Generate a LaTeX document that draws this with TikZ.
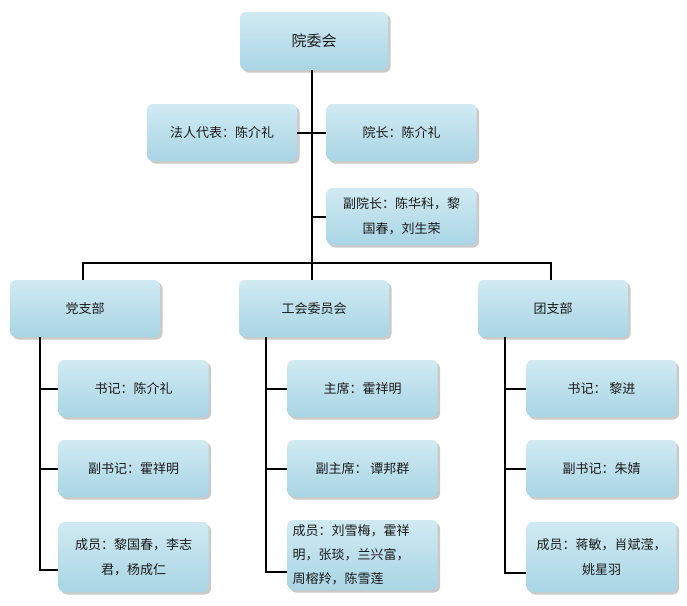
\documentclass[tikz,border=0pt]{standalone}
\usepackage{fontspec}
\setmainfont{Noto Sans CJK SC}
\usetikzlibrary{shadows}
\definecolor{boxtop}{HTML}{D0EAF2}
\definecolor{boxbot}{HTML}{A9D5E5}
\definecolor{txt}{HTML}{1A1A1A}
\begin{document}
\begin{tikzpicture}[x=1pt,y=-1pt,
  orgbox/.style={rectangle, rounded corners=6pt, top color=boxtop, bottom color=boxbot,
    draw=none, minimum width=150pt, minimum height=57pt, inner sep=2pt,
    font=\fontsize{13}{25}\selectfont, text=txt, align=center,
    drop shadow={shadow xshift=2.5pt, shadow yshift=-2.5pt, fill=black!35, opacity=0.6}},
  tallbox/.style={orgbox, minimum height=70pt},
  link/.style={draw=black, line width=2pt}]
\useasboundingbox (0,0) rectangle (687,605);
% top
\node[orgbox, minimum width=148pt, minimum height=58pt, font=\fontsize{15}{18}\selectfont] (top) at (314,41) {院委会};
\node[orgbox] (fr) at (222,132.5) {法人代表：陈介礼};
\node[orgbox] (yz) at (401.5,132.5) {院长：陈介礼};
\node[orgbox, text width=140pt] (fyz) at (401.5,216.5) {副院长：陈华科，黎\\国春，刘生荣};
% departments
\node[orgbox] (dzb) at (85,308.5) {党支部};
\node[orgbox] (gh) at (314,308.5) {工会委员会};
\node[orgbox] (tzb) at (553,308.5) {团支部};
% left children
\node[orgbox] (l1) at (133.5,388.5) {书记：陈介礼};
\node[orgbox] (l2) at (133.5,468.5) {副书记：霍祥明};
\node[tallbox, text width=140pt] (l3) at (133.5,557) {成员：黎国春，李志\\君，杨成仁};
% middle children
\node[orgbox] (m1) at (362.5,388.5) {主席：霍祥明};
\node[orgbox] (m2) at (362.5,468.5) {副主席： 谭邦群};
\node[tallbox, text width=140pt, align=left, font=\fontsize{13}{24}\selectfont] (m3) at (362.5,555) {\raisebox{0pt}[0pt][0pt]{\parbox[t]{140pt}{\vspace*{-30pt}成员：刘雪梅，霍祥\\明，张琰，兰兴富，\\周榕羚，陈雪莲}}};
% right children
\node[orgbox] (r1) at (601.5,388.5) {书记：\ 黎进};
\node[orgbox] (r2) at (601.5,468.5) {副书记：朱婧};
\node[tallbox, text width=140pt] (r3) at (601.5,557) {成员：蒋敏，肖斌滢，\\姚星羽};
% connectors
\coordinate (bar) at (312,263);
\draw[link] (top.south -| bar) -- (bar);
\draw[link] (fr.east) -- (yz.west);
\draw[link] (fyz.west) -- (fyz.west -| bar);
\draw[link] (dzb.north -| 83,0) |- (bar) -| (tzb.north -| 551,0);
\draw[link] (bar) -- (bar |- gh.north);
% left trunk
\coordinate (lt) at (40,337);
\draw[link] (lt) |- ([yshift=-13pt]l3.west);
\draw[link] (l1.west) -- (l1.west -| lt);
\draw[link] (l2.west) -- (l2.west -| lt);
\coordinate (mt) at (266,337);
\draw[link] (mt) |- ([yshift=-17pt]m3.west);
\draw[link] (m1.west) -- (m1.west -| mt);
\draw[link] (m2.west) -- (m2.west -| mt);
\coordinate (rt) at (505,337);
\draw[link] (rt) |- ([yshift=-16pt]r3.west);
\draw[link] (r1.west) -- (r1.west -| rt);
\draw[link] (r2.west) -- (r2.west -| rt);
\end{tikzpicture}
\end{document}
